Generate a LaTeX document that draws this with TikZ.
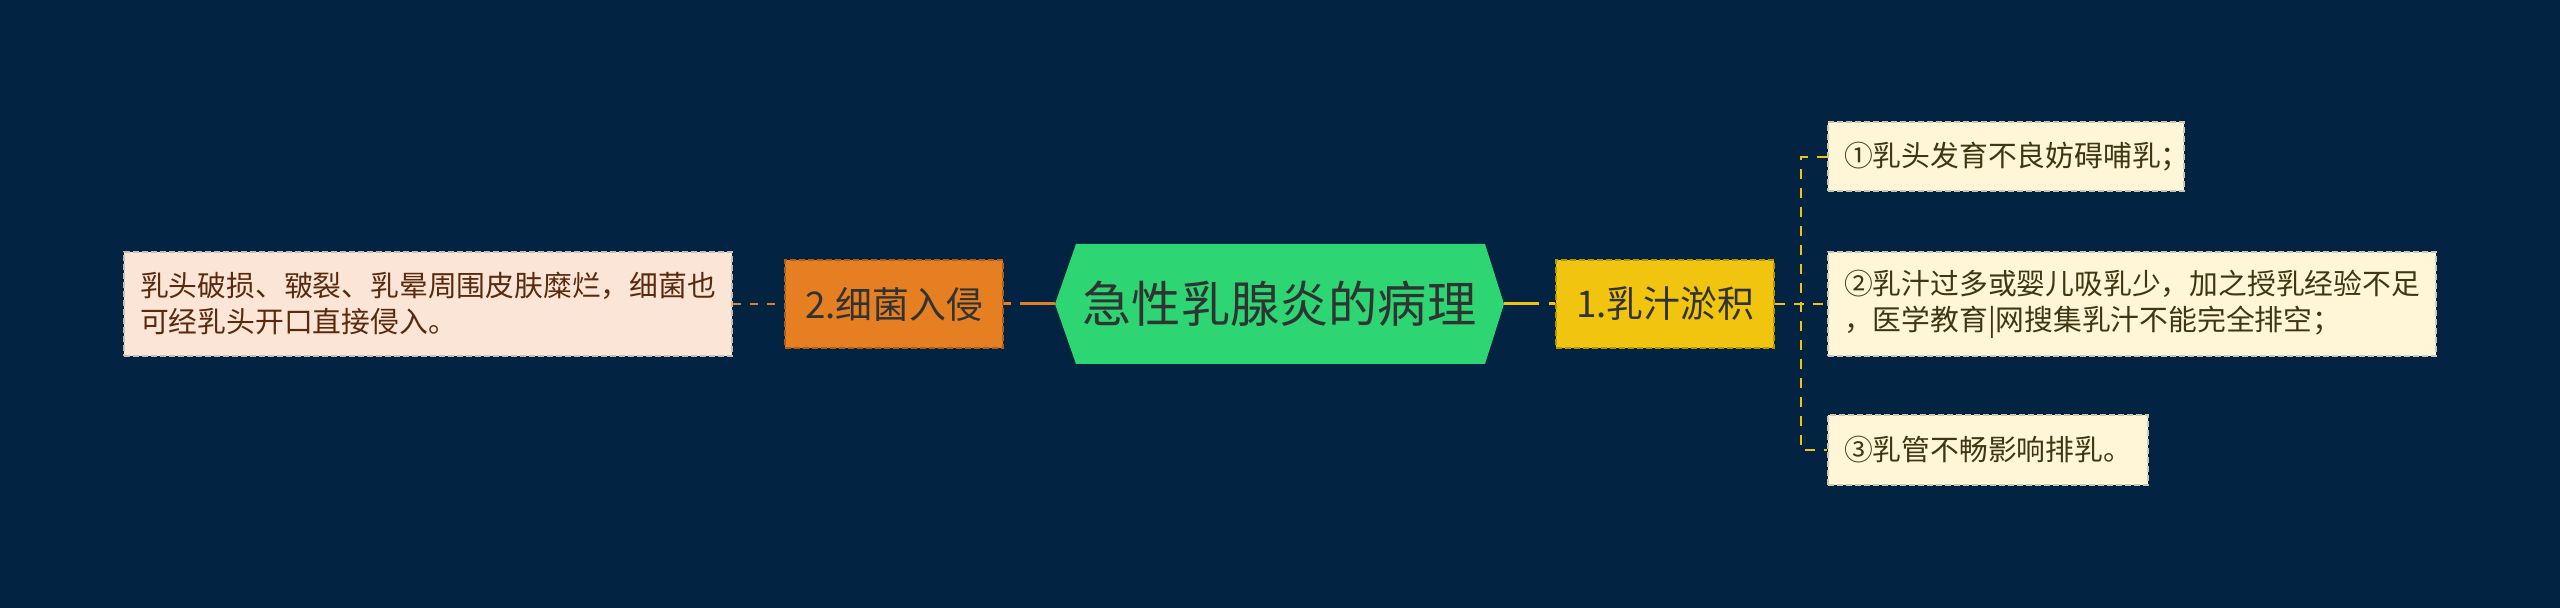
\documentclass[tikz,border=0pt]{standalone}
\usepackage{fontspec}
\setmainfont{Noto Sans CJK SC}
\definecolor{bgc}{HTML}{022341}
\definecolor{greenc}{HTML}{2ED573}
\definecolor{orangec}{HTML}{E67E22}
\definecolor{yellowc}{HTML}{F1C40F}
\definecolor{peachc}{HTML}{FBE5D6}
\definecolor{creamc}{HTML}{FEF6D6}
\definecolor{darktext}{HTML}{2F3332}
\definecolor{browntext}{HTML}{5A2A0E}
\definecolor{olivetext}{HTML}{3D3712}
\begin{document}
\begin{tikzpicture}[x=0.5pt,y=-0.5pt,
  boxbase/.style={rectangle, inner sep=0pt, line width=1pt, dash pattern=on 3pt off 1.5pt},
  midbox/.style={boxbase, minimum width=109pt, minimum height=44pt, text=darktext,
    font=\fontsize{18.4}{22}\selectfont},
  leafbox/.style={boxbase, inner xsep=8pt, align=left, font=\fontsize{14.4}{18}\selectfont},
  oline/.style={draw=orangec, line width=1.5pt},
  yline/.style={draw=yellowc, line width=1.5pt},
  odash/.style={draw=orangec, line width=1.25pt, dash pattern=on 4pt off 4.5pt},
  ydash/.style={draw=yellowc, line width=1.25pt, dash pattern=on 5pt off 4.5pt}]
\useasboundingbox (0,0) rectangle (2560,608);
\fill[bgc] (0,0) rectangle (2560,608);
% central hexagon
\fill[greenc] (1055,304) -- (1076,244) -- (1485,244) -- (1504,304) -- (1485,364) -- (1076,364) -- cycle;
\node[inner sep=0pt, minimum width=224.5pt, minimum height=60pt, text=darktext,
  font=\fontsize{24.6}{28}\selectfont] (c) at (1279.5,304) {急性乳腺炎的病理};
% main branches
\node[midbox, fill=orangec, draw=orangec!75!black] (b2) at (894,304) {2.细菌入侵};
\node[midbox, fill=yellowc, draw=yellowc!75!black] (b1) at (1665,304) {1.乳汁淤积};
% leaves
\node[leafbox, fill=peachc, draw=peachc!60!gray, text=browntext, minimum height=52pt, anchor=east] (l1) at (733,304)
  {乳头破损、皲裂、乳晕周围皮肤糜烂，细菌也\\可经乳头开口直接侵入。};
\node[leafbox, fill=creamc, draw=creamc!60!gray, text=olivetext, minimum height=34.5pt, anchor=west] (r1) at (1827,157)
  {①乳头发育不良妨碍哺乳；\hspace*{-11pt}};
\node[leafbox, fill=creamc, draw=creamc!60!gray, text=olivetext, minimum height=52pt, anchor=west] (r2) at (1827,304)
  {②乳汁过多或婴儿吸乳少，加之授乳经验不足\\，医学教育|网搜集乳汁不能完全排空；};
\node[leafbox, fill=creamc, draw=creamc!60!gray, text=olivetext, minimum height=35pt, anchor=west] (r3) at (1827,450)
  {③乳管不畅影响排乳。};
% connectors
\draw[oline, dash pattern=on 3.5pt off 4.5pt on 100pt] (b2.east) -- (c.west);
\draw[yline, dash pattern=on 3pt off 5pt on 100pt] (b1.west) -- (c.east);
\draw[odash] (l1.east) -- (b2.west);
\draw[ydash] (b1.east) -- (r2.west);
\draw[ydash] (r1.west) -- ++(-26,0) |- (r3.west);
\end{tikzpicture}
\end{document}
